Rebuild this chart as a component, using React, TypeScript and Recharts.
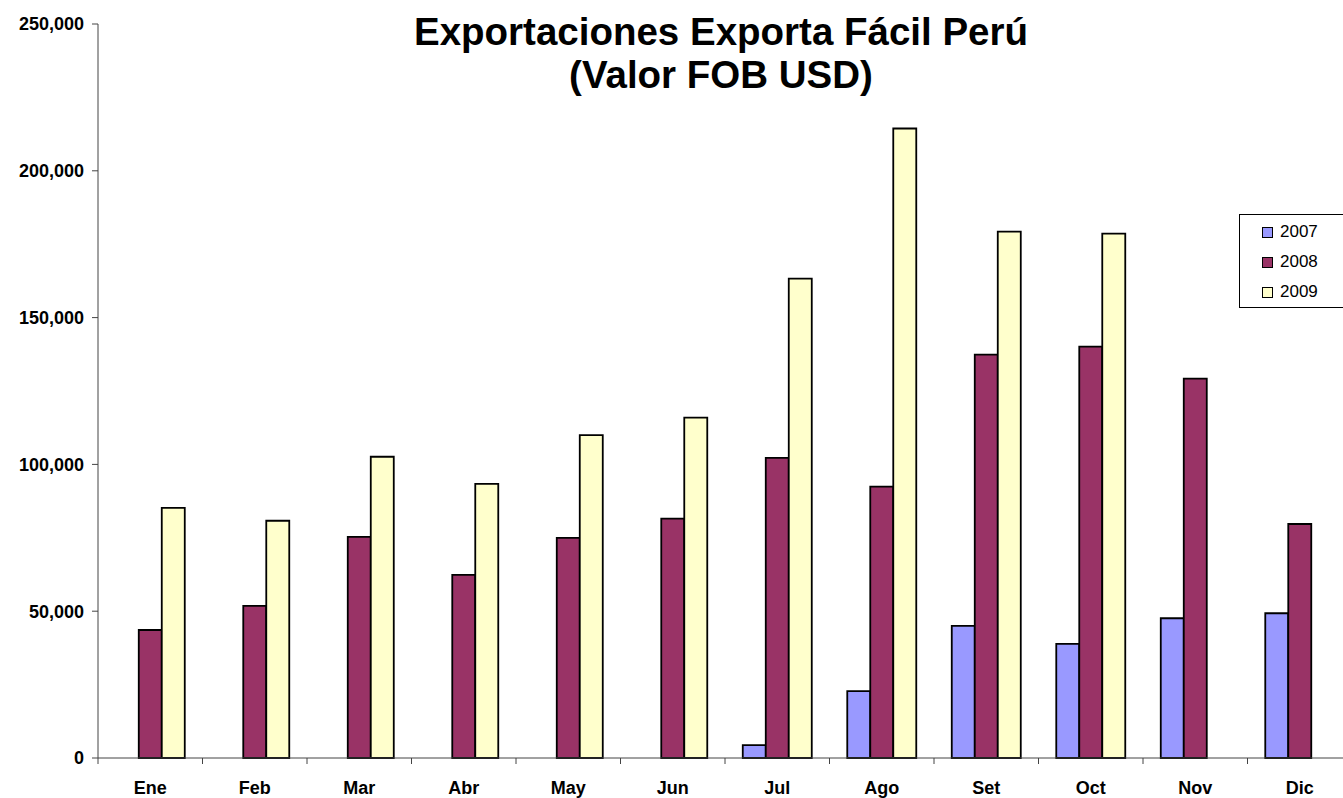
import React from 'react';
import { BarChart, Bar, XAxis, YAxis } from 'recharts';

const months = ['Ene', 'Feb', 'Mar', 'Abr', 'May', 'Jun', 'Jul', 'Ago', 'Set', 'Oct', 'Nov', 'Dic'];
const v2007 = [null, null, null, null, null, null, 4400, 22800, 45000, 38900, 47600, 49300];
const v2008 = [43600, 51800, 75300, 62400, 75000, 81500, 102200, 92400, 137400, 140100, 129200, 79700];
const v2009 = [85200, 80800, 102600, 93400, 110000, 115900, 163300, 214400, 179300, 178600, null, null];
const yTicks = [0, 50000, 100000, 150000, 200000, 250000];

const seriesInfo = [
  { key: '2007', color: '#9999FF' },
  { key: '2008', color: '#993366' },
  { key: '2009', color: '#FFFFCC' },
];

const data = months.map((m, i) => ({
  name: m,
  '2007': v2007[i],
  '2008': v2008[i],
  '2009': v2009[i],
}));

const W = 1360;
const H = 798;
const M = { top: 24, right: 8, left: 8, bottom: 0 };
const Y_W = 90;
const plotWidth = W - M.left - M.right - Y_W;
const band = plotWidth / months.length;

const font = 'Arial, "Liberation Sans", sans-serif';

const XTick = (props: any) => {
  const { x, y, payload } = props;
  const left = x - band / 2;
  return (
    <g>
      <line x1={left} y1={y - 8} x2={left} y2={y - 2} stroke="#444" strokeWidth={1} />
      <text x={x} y={y + 28} textAnchor="middle" fontFamily={font} fontWeight="bold" fontSize={18} fill="#000">
        {payload.value}
      </text>
    </g>
  );
};

// legend box drawn outside the chart so it does not shrink the plot
const LegendBox = () => (
  <div
    style={{
      position: 'absolute',
      left: 1239,
      top: 214,
      width: 110,
      height: 94,
      border: '1px solid #000',
      background: '#fff',
      padding: '2px 0 0 22px',
      fontFamily: font,
      fontSize: 17,
      color: '#000',
      boxSizing: 'border-box',
    }}
  >
    {seriesInfo.map((s) => (
      <div key={s.key} style={{ display: 'flex', alignItems: 'center', height: 30 }}>
        <span
          style={{
            display: 'inline-block',
            width: 9,
            height: 9,
            background: s.color,
            border: '1px solid #000',
            marginRight: 7,
          }}
        />
        {s.key}
      </div>
    ))}
  </div>
);

export default function App() {
  return (
    <div style={{ position: 'absolute', left: 0, top: 0, width: 1343, height: 798, overflow: 'hidden', background: '#fff' }}>
      <div
        style={{
          position: 'absolute',
          left: 0,
          width: 1442,
          top: 10,
          textAlign: 'center',
          fontFamily: font,
          fontWeight: 'bold',
          fontSize: 38.5,
          lineHeight: '43px',
          color: '#000',
        }}
      >
        Exportaciones Exporta Fácil Perú
        <br />
        (Valor FOB USD)
      </div>
      <BarChart width={W} height={H} data={data} margin={M} barCategoryGap="17%" barGap={0}>
        <XAxis
          dataKey="name"
          height={40}
          axisLine={{ stroke: '#444' }}
          tickLine={false}
          tick={<XTick />}
          interval={0}
        />
        <YAxis
          width={Y_W}
          domain={[0, 250000]}
          ticks={yTicks}
          interval={0}
          axisLine={{ stroke: '#444' }}
          tickLine={{ stroke: '#444' }}
          tickSize={6}
          tickMargin={8}
          tickFormatter={(v: number) => v.toLocaleString('en-US')}
          tick={{ fontFamily: font, fontWeight: 'bold', fontSize: 18, fill: '#000' }}
        />
        {seriesInfo.map((s) => (
          <Bar
            key={s.key}
            dataKey={s.key}
            fill={s.color}
            stroke="#000"
            strokeWidth={1.8}
            isAnimationActive={false}
          />
        ))}
      </BarChart>
      <LegendBox />
    </div>
  );
}
